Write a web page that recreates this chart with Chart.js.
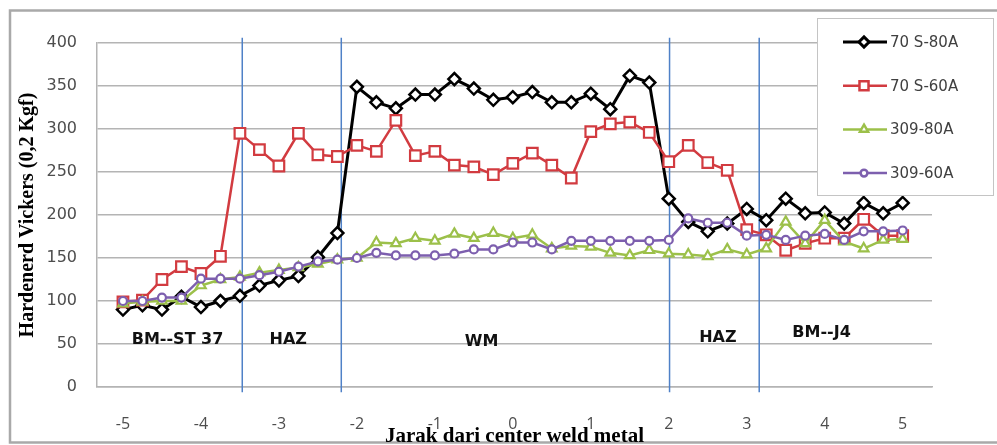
<!DOCTYPE html>
<html>
<head>
<meta charset="utf-8">
<title>Hardenerd Vickers</title>
<script src="https://cdn.jsdelivr.net/npm/chart.js"></script>
<style>
  html, body { margin: 0; padding: 0; background: #fff; }
  #chart { display: block; }
</style>
</head>
<body>
<canvas id="chart" width="997" height="445"></canvas>
<script>
// jarak dari center weld metal (mm)
const distances = [
  -5, -4.75, -4.5, -4.25, -4, -3.75, -3.5, -3.25, -3, -2.75, -2.5, -2.25,
  -2, -1.75, -1.5, -1.25, -1, -0.75, -0.5, -0.25, 0, 0.25, 0.5, 0.75,
  1, 1.25, 1.5, 1.75, 2, 2.25, 2.5, 2.75, 3, 3.25, 3.5, 3.75, 4, 4.25, 4.5, 4.75, 5,
];

const hv70s80a = [
  90, 95, 90, 105, 93, 100, 106, 118, 124, 129, 151, 179,
  349, 331, 324, 340, 340, 358, 347, 334, 337, 343, 331, 331,
  341, 323, 362, 354, 219, 192, 181, 190, 207, 194, 219, 202, 203, 190, 214, 202, 214,
];
const hv70s60a = [
  99, 101, 125, 140, 132, 152, 295, 276, 257, 295, 270, 268,
  281, 274, 310, 269, 274, 258, 256, 247, 260, 272, 258, 243,
  297, 306, 308, 296, 262, 281, 261, 252, 183, 177, 159, 167, 173, 173, 195, 176, 176,
];
const hv309_80a = [
  97, 99, 100, 100, 118, 125, 128, 133, 136, 139, 143, 148,
  150, 168, 167, 173, 170, 178, 173, 179, 173, 177, 161, 164,
  163, 156, 153, 159, 155, 154, 152, 160, 154, 161, 192, 167, 194, 169, 161, 171, 172,
];
const hv309_60a = [
  100, 100, 104, 104, 126, 126, 126, 130, 134, 140, 146, 148,
  150, 156, 153, 153, 153, 155, 160, 160, 168, 168, 160, 170,
  170, 170, 170, 170, 171, 196, 191, 191, 176, 177, 171, 176, 178, 171, 181, 181, 182,
];

const seriesNames = ["70 S-80A", "70 S-60A", "309-80A", "309-60A"];
const xTickValues = [-5, -4, -3, -2, -1, 0, 1, 2, 3, 4, 5];
const yTickValues = [0, 50, 100, 150, 200, 250, 300, 350, 400];

// batas daerah BM / HAZ / WM / HAZ / BM
const zoneEdges = [-3.47, -2.2, 2.01, 3.16];
const zoneNames = ["BM--ST 37", "HAZ", "WM", "HAZ", "BM--J4"];

const seriesValues = [hv70s80a, hv70s60a, hv309_80a, hv309_60a];
const seriesLook = [
  { color: "#000000", point: "rectRot", radius: 6, line: 3, border: 2.5 },
  { color: "#d23b40", point: "rect", radius: 7.5, line: 2.5, border: 2.2 },
  { color: "#9cc04a", point: "triangle", radius: 5.5, line: 2.5, border: 2.2 },
  { color: "#7d5fae", point: "circle", radius: 4, line: 2.5, border: 2.2 },
];
// letak teks daerah (nilai sumbu)
const zoneTextAt = [
  { x: -4.3, y: 55 },
  { x: -2.88, y: 55 },
  { x: -0.4, y: 53 },
  { x: 2.63, y: 57 },
  { x: 3.96, y: 63 },
];

const datasets = seriesValues.map((vals, i) => ({
  label: seriesNames[i],
  data: distances.map((x, k) => ({ x: x, y: vals[k] })),
  borderColor: seriesLook[i].color,
  borderWidth: seriesLook[i].line,
  pointStyle: seriesLook[i].point,
  pointRadius: seriesLook[i].radius,
  pointBorderWidth: seriesLook[i].border,
  pointBorderColor: seriesLook[i].color,
  pointBackgroundColor: "#ffffff",
  tension: 0,
  order: 4 - i,
}));

zoneEdges.forEach((edge) => {
  datasets.push({
    label: "edge",
    data: [{ x: edge, y: -6 }, { x: edge, y: 406 }],
    borderColor: "#4f81c7",
    borderWidth: 1.5,
    pointRadius: 0,
    clip: false,
    order: 10,
  });
});

const notes = {
  id: "notes",
  beforeDraw(chart) {
    const c = chart.ctx;
    c.save();
    c.fillStyle = "#ffffff";
    c.fillRect(0, 0, chart.width, chart.height);
    c.strokeStyle = "#a9a9a9";
    c.lineWidth = 2.5;
    c.strokeRect(10, 10.5, chart.width + 20, chart.height - 13);
    c.restore();
  },
  afterDraw(chart) {
    const c = chart.ctx;
    const xs = chart.scales.x;
    const ys = chart.scales.y;
    c.save();
    c.font = "bold 16px 'DejaVu Sans'";
    c.fillStyle = "#111111";
    c.textAlign = "center";
    c.textBaseline = "middle";
    zoneNames.forEach((name, i) => {
      c.fillText(name, xs.getPixelForValue(zoneTextAt[i].x), ys.getPixelForValue(zoneTextAt[i].y));
    });

    // legend
    c.fillStyle = "#ffffff";
    c.fillRect(817, 18, 176, 177);
    c.strokeStyle = "#c4c4c4";
    c.lineWidth = 1;
    c.strokeRect(817.5, 18.5, 176, 177);
    c.font = "15px 'DejaVu Sans'";
    c.textAlign = "left";
    seriesNames.forEach((name, i) => {
      const y = 42 + i * 43.7;
      const look = seriesLook[i];
      c.strokeStyle = look.color;
      c.lineWidth = look.line;
      c.beginPath();
      c.moveTo(843, y);
      c.lineTo(887, y);
      c.stroke();
      c.fillStyle = "#ffffff";
      Chart.helpers.drawPoint(c, {
        pointStyle: look.point,
        radius: look.radius * 0.85,
        rotation: 0,
        borderWidth: look.border,
      }, 864, y);
      c.fillStyle = "#404040";
      c.fillText(name, 890, y + 1);
    });
    c.restore();
  },
};

const chart = new Chart(document.querySelector("#chart"), {
  type: "line",
  data: { datasets: datasets },
  options: {
    responsive: false,
    animation: false,
    devicePixelRatio: 1,
    layout: { padding: { top: 43, right: 65, bottom: 0, left: 0 } },
    plugins: {
      legend: { display: false },
      tooltip: { enabled: false },
    },
    scales: {
      x: {
        type: "linear",
        min: -5.333,
        max: 5.376,
        afterFit(scale) { scale.height = 58; },
        afterBuildTicks(scale) { scale.ticks = xTickValues.map((v) => ({ value: v })); },
        grid: { display: false },
        border: { display: true, color: "#b4b4b4", width: 1.5 },
        ticks: {
          padding: 20,
          color: "#4d4d4d",
          font: { family: "'Open Sans'", size: 16 },
        },
        title: {
          display: true,
          text: "Jarak dari center weld metal",
          color: "#000000",
          padding: { top: 0, bottom: 0 },
          font: { family: "'Liberation Serif'", size: 21, weight: "bold", lineHeight: 0.76 },
        },
      },
      y: {
        type: "linear",
        min: 0,
        max: 400,
        afterFit(scale) { scale.width = 97; },
        afterBuildTicks(scale) { scale.ticks = yTickValues.map((v) => ({ value: v })); },
        grid: { color: "#b4b4b4", lineWidth: 1.5, drawTicks: false },
        border: { display: true, color: "#b4b4b4", width: 1.5 },
        ticks: {
          padding: 20,
          color: "#4d4d4d",
          font: { family: "'DejaVu Sans'", size: 16 },
        },
        title: {
          display: true,
          text: "Hardenerd Vickers (0,2 Kgf)",
          color: "#000000",
          padding: { top: 16, bottom: 0 },
          font: { family: "'Liberation Serif'", size: 20, weight: "bold", lineHeight: 1.2 },
        },
      },
    },
  },
  plugins: [notes],
});
</script>
</body>
</html>
